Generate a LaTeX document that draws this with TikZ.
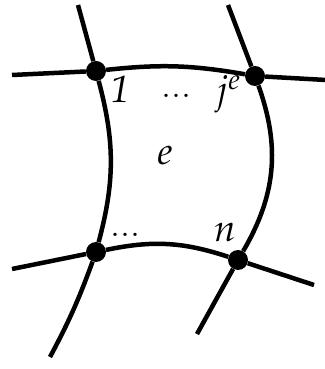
\documentclass[tikz,border=0pt]{standalone}
\usepackage{amsmath, amssymb}
\usepackage{mathpazo}
\usetikzlibrary{positioning}

\begin{document}
\begin{tikzpicture}[x=1pt, y=1pt,
  vertex/.style={circle, fill=black, inner sep=0pt, minimum size=20pt},
  edge/.style={line width=4.5pt},
  lbl/.style={font=\fontsize{38}{42}\selectfont, inner sep=0pt},
  dotslbl/.style={font=\fontsize{40}{44}\selectfont\bfseries, inner sep=0pt}
]
  \useasboundingbox (0,0) rectangle (324,369);
  % corners of the element
  \node[vertex] (n1) at (96,298) {};
  \node[vertex] (nj) at (255,293) {};
  \node[vertex] (nb) at (96,117) {};
  \node[vertex] (nn) at (238,109) {};
  % free ends of the neighbouring edges
  \coordinate (t1) at (78,364);
  \coordinate (l1) at (12,294);
  \coordinate (tj) at (228,364);
  \coordinate (rj) at (326,289);
  \coordinate (lb) at (12,100);
  \coordinate (db) at (50,12);
  \coordinate (rn) at (314,84);
  \coordinate (dn) at (197,35);

  \draw[edge] (n1) to[bend left=8] (nj);
  \draw[edge] (n1) to[bend left=15] (nb);
  \draw[edge] (nj) to[bend left=25] (nn);
  \draw[edge] (nb) to[bend left=15] (nn);

  \draw[edge] (n1) -- (t1);
  \draw[edge] (n1) -- (l1);
  \draw[edge] (nj) -- (tj);
  \draw[edge] (nj) -- (rj);
  \draw[edge] (nb) -- (lb);
  \draw[edge] (nb) to[bend left=4] (db);
  \draw[edge] (nn) -- (rn);
  \draw[edge] (nn) -- (dn);

  \node[lbl, anchor=base] (one) at (120,266) {$\mathit{1}$};
  \node[dotslbl, anchor=base] (dtop) at (176,271) {...};
  \node[lbl, anchor=base] (je) at (228,266) {$j^e$};
  \node[lbl, anchor=base] (el) at (165,204) {$e$};
  \node[dotslbl, anchor=base] (dbot) at (125,132) {...};
  \node[lbl, anchor=base] (nl) at (225,127) {$n$};
\end{tikzpicture}
\end{document}
